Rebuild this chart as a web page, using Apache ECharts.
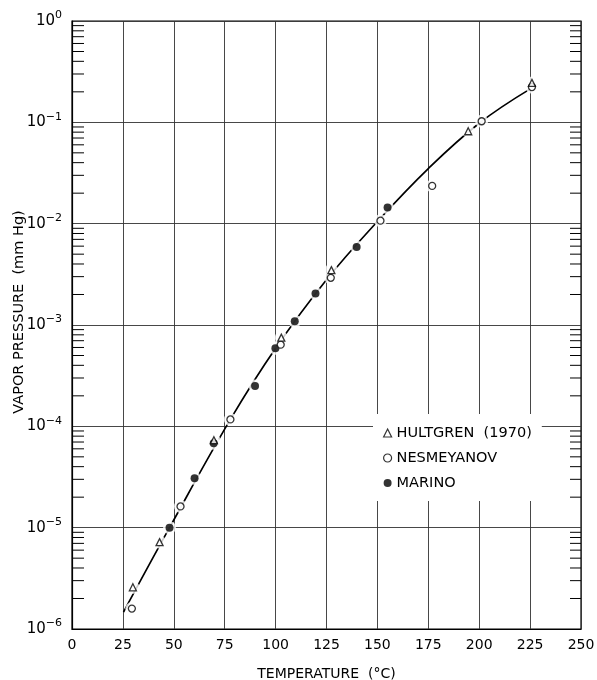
<!DOCTYPE html>
<html>
<head>
<meta charset="utf-8">
<style>html,body{margin:0;padding:0;background:#fff}#c{width:597px;height:680px}</style>
<script src="https://cdn.jsdelivr.net/npm/echarts@6/dist/echarts.min.js"></script>
</head>
<body>
<div id="c"></div>
<script>
// ---- data ----
var xTicks = [0, 25, 50, 75, 100, 125, 150, 175, 200, 225, 250];
var yTickExponents = [-6, -5, -4, -3, -2, -1, 0];

var hultgrenT = [29.9, 43.0, 69.7, 102.8, 127.4, 194.6, 225.9];
var hultgrenP = [2.58e-6, 7.2e-6, 7.3e-5, 7.5e-4, 3.48e-3, 0.0817, 0.245];

var nesmeyanovT = [29.4, 53.3, 77.8, 102.5, 127.1, 151.5, 176.9, 201.2, 225.9];
var nesmeyanovP = [1.59e-6, 1.62e-5, 1.17e-4, 6.4e-4, 2.92e-3, 0.0107, 0.0236, 0.1025, 0.223];

var marinoT = [47.9, 60.2, 69.6, 89.9, 99.9, 109.4, 119.6, 139.8, 155.0];
var marinoP = [1.0e-5, 3.07e-5, 6.8e-5, 2.5e-4, 5.9e-4, 1.09e-3, 2.05e-3, 5.9e-3, 0.0144];

var curveT = [25.3, 47.9, 77.8, 100, 125, 150, 175, 200, 225.3];
var curveP = [1.47e-6, 1.0e-5, 1.17e-4, 5.9e-4, 2.8e-3, 0.0105, 0.035, 0.098, 0.215];

// ---- helpers ----
function pairs(a, b) { return a.map(function (v, i) { return [v, b[i]]; }); }
var minorTicks = [];
yTickExponents.slice(0, -1).forEach(function (e) {
  for (var k = 2; k <= 9; k++) minorTicks.push([0, k * Math.pow(10, e)]);
});
var allPoints = pairs(hultgrenT, hultgrenP).concat(pairs(nesmeyanovT, nesmeyanovP), pairs(marinoT, marinoP));

var FONT = 'DejaVu Sans';
var chart = echarts.init(document.getElementById('c'), null, {renderer: 'canvas'});

chart.setOption({
  backgroundColor: '#fff',
  animation: false,
  textStyle: {fontFamily: FONT, color: '#000'},
  grid: {left: 72, right: 16, top: 21, bottom: 51, outerBoundsMode: 'none', containLabel: false,
    show: true, borderColor: '#000', borderWidth: 1.2, backgroundColor: 'transparent'},
  legend: {
    data: [
      {name: 'HULTGREN  (1970)', itemStyle: {color: '#fff', borderColor: '#000', borderWidth: 1.2}},
      {name: 'NESMEYANOV', itemStyle: {color: '#fff', borderColor: '#000', borderWidth: 1.2}},
      {name: 'MARINO', itemStyle: {color: '#000', borderWidth: 0}}
    ],
    orient: 'vertical',
    left: 373, top: 414,
    padding: [11, 10, 10, 10],
    itemGap: 9,
    itemWidth: 8, itemHeight: 8,
    itemTextGap: 15,
    backgroundColor: '#fff',
    textStyle: {fontFamily: FONT, fontSize: 14.5, color: '#000', lineHeight: 16},
    selectedMode: false
  },
  xAxis: {
    type: 'value', min: 0, max: 250, interval: 25,
    name: 'TEMPERATURE  (°C)', nameLocation: 'middle', nameGap: 38,
    nameMoveOverlap: false,
    nameTextStyle: {fontFamily: FONT, fontSize: 14, color: '#000'},
    axisLine: {show: true, lineStyle: {color: '#000', width: 1.2}},
    axisTick: {show: false},
    axisLabel: {margin: 9, fontSize: 14, color: '#000', fontFamily: FONT,
      formatter: function (v) { return xTicks.indexOf(v) >= 0 ? String(v) : ''; }},
    splitLine: {show: true, lineStyle: {color: '#333', width: 0.9}}
  },
  yAxis: {
    type: 'log', logBase: 10, min: 1e-6, max: 1, splitNumber: 6,
    name: 'VAPOR PRESSURE  (mm Hg)', nameLocation: 'middle', nameGap: 45,
    nameRotate: 90, nameMoveOverlap: false,
    nameTextStyle: {fontFamily: FONT, fontSize: 14.5, color: '#000', padding: [0, 0, 0, 26]},
    axisLine: {show: true, lineStyle: {color: '#000', width: 1.2}},
    axisTick: {show: false},
    axisLabel: {
      margin: 10, color: '#000', fontFamily: FONT,
      formatter: function (v) {
        var e = Math.round(Math.log(v) / Math.LN10);
        if (yTickExponents.indexOf(e) < 0) return '';
        return '{b|10}{s|' + (e < 0 ? '\u2212' + (-e) : e) + '}';
      },
      rich: {
        b: {fontSize: 15, fontFamily: FONT, color: '#000'},
        s: {fontSize: 11, fontFamily: FONT, color: '#000', padding: [0, 0, 11, 0]}
      }
    },
    splitLine: {show: true, lineStyle: {color: '#333', width: 0.9}}
  },
  series: [
    {
      type: 'custom', name: 'minor', silent: true, z: 1,
      data: minorTicks,
      renderItem: function (params, api) {
        var v = api.value(1);
        var l = api.coord([0, v]);
        var r = api.coord([250, v]);
        return {
          type: 'group',
          children: [
            {type: 'line', shape: {x1: l[0], y1: l[1], x2: l[0] + 12, y2: l[1]}, style: {stroke: '#000', lineWidth: 1}},
            {type: 'line', shape: {x1: r[0] - 11, y1: r[1], x2: r[0], y2: r[1]}, style: {stroke: '#000', lineWidth: 1}}
          ]
        };
      }
    },
    {
      type: 'line', name: 'curve', data: pairs(curveT, curveP), smooth: 0.4,
      showSymbol: false, silent: true, z: 2,
      lineStyle: {color: '#000', width: 1.7}
    },
    {
      type: 'scatter', name: 'halo', data: allPoints, silent: true, z: 3,
      symbol: 'circle', symbolSize: 13,
      itemStyle: {color: '#fff', borderWidth: 0}
    },
    {
      type: 'scatter', name: 'MARINO', data: pairs(marinoT, marinoP), z: 4,
      symbol: 'circle', symbolSize: 8,
      itemStyle: {color: '#000', borderColor: '#000', borderWidth: 0}
    },
    {
      type: 'scatter', name: 'NESMEYANOV', data: pairs(nesmeyanovT, nesmeyanovP), z: 4,
      symbol: 'circle', symbolSize: 7,
      itemStyle: {color: '#fff', borderColor: '#000', borderWidth: 1.3}
    },
    {
      type: 'scatter', name: 'HULTGREN  (1970)', data: pairs(hultgrenT, hultgrenP), z: 5,
      symbol: 'triangle', symbolSize: 7,
      itemStyle: {color: '#fff', borderColor: '#000', borderWidth: 1.3}
    }
  ]
});
</script>
</body>
</html>
